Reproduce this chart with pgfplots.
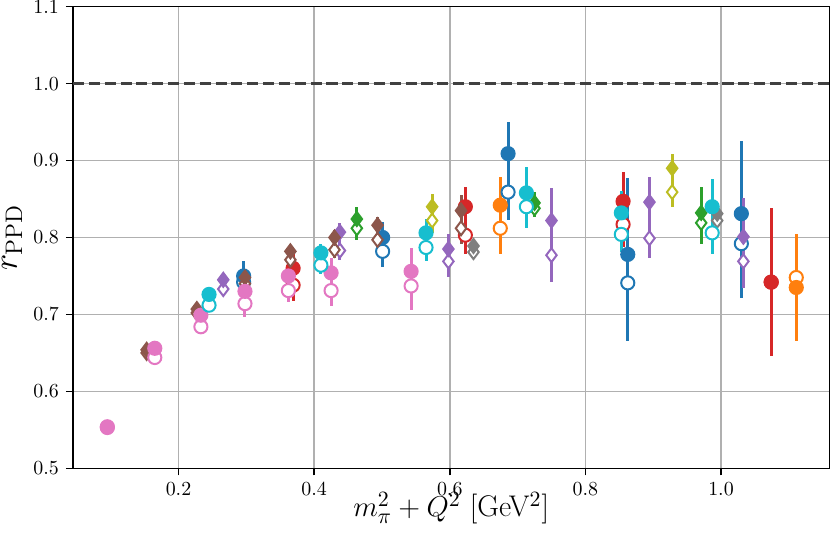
\documentclass[border=0pt]{standalone}
\usepackage{pgfplots}
\usepackage{pgfplotstable}
\pgfplotsset{compat=1.18}

\definecolor{tblue}{HTML}{1F77B4}
\definecolor{torange}{HTML}{FF7F0E}
\definecolor{tgreen}{HTML}{2CA02C}
\definecolor{tred}{HTML}{D62728}
\definecolor{tpurple}{HTML}{9467BD}
\definecolor{tbrown}{HTML}{8C564B}
\definecolor{tpink}{HTML}{E377C2}
\definecolor{tgray}{HTML}{7F7F7F}
\definecolor{tolive}{HTML}{BCBD22}
\definecolor{tcyan}{HTML}{17BECF}
\definecolor{gridc}{HTML}{B0B0B0}

\pgfplotstableread{
x yf ef yo eo
0.296 0.750 0.020 0.742 0.018
0.501 0.800 0.020 0.782 0.020
0.686 0.909 0.041 0.859 0.036
0.8625 0.778 0.099 0.741 0.076
1.030 0.831 0.094 0.792 0.071
}\tblue
\pgfplotstableread{
x yf ef yo eo
0.6745 0.842 0.036 0.812 0.033
1.111 0.735 0.070 0.748 0.057
}\torange
\pgfplotstableread{
x yf ef yo eo
0.463 0.824 0.015 0.812 0.015
0.725 0.845 0.014 0.838 0.012
0.9708 0.832 0.034 0.819 0.027
}\tgreen
\pgfplotstableread{
x yf ef yo eo
0.369 0.760 0.020 0.738 0.020
0.623 0.840 0.025 0.803 0.024
0.8556 0.847 0.038 0.817 0.030
1.074 0.742 0.096 0.742 0.096
}\tred
\pgfplotstableread{
x yf ef yo eo
0.266 0.745 0.008 0.733 0.008
0.438 0.807 0.012 0.783 0.012
0.598 0.785 0.020 0.769 0.020
0.750 0.822 0.042 0.777 0.035
0.8945 0.846 0.032 0.799 0.026
1.033 0.801 0.050 0.769 0.034
}\tpurple
\pgfplotstableread{
x yf ef yo eo
0.153 0.654 0.005 0.650 0.005
0.227 0.707 0.006 0.702 0.006
0.298 0.748 0.008 0.740 0.008
0.365 0.782 0.008 0.771 0.008
0.430 0.800 0.010 0.784 0.010
0.4935 0.816 0.010 0.797 0.010
0.6166 0.835 0.020 0.812 0.020
}\tbrown
\pgfplotstableread{
x yf ef yo eo
0.095 0.554 0.008 0.553 0.008
0.165 0.656 0.008 0.644 0.008
0.233 0.699 0.010 0.684 0.010
0.298 0.730 0.017 0.714 0.017
0.362 0.750 0.015 0.731 0.015
0.425 0.754 0.020 0.731 0.020
0.543 0.756 0.030 0.737 0.031
}\tpink
\pgfplotstableread{
x yf ef yo eo
0.635 0.789 0.008 0.781 0.008
0.9944 0.831 0.008 0.822 0.008
}\tgray
\pgfplotstableread{
x yf ef yo eo
0.574 0.840 0.016 0.822 0.016
0.928 0.890 0.019 0.859 0.019
}\tolive
\pgfplotstableread{
x yf ef yo eo
0.245 0.726 0.008 0.712 0.008
0.410 0.780 0.012 0.764 0.012
0.565 0.806 0.018 0.787 0.018
0.713 0.858 0.033 0.840 0.028
0.853 0.832 0.028 0.804 0.023
0.987 0.840 0.036 0.806 0.028
}\tcyan

% #1 table, #2 colour, #3 mark, #4 mark size
\newcommand{\grp}[4]{%
\addplot[only marks, color=#2, mark=#3, mark size=#4,
  mark options={solid, fill=white, line width=1pt},
  error bars/.cd, y dir=both, y explicit, error mark=none,
  error bar style={solid, line width=1.5pt, color=#2}]
  table[x=x, y=yo, y error=eo] {#1};
\addplot[only marks, color=#2, mark=#3, mark size=#4,
  mark options={solid, fill=#2, line width=1pt},
  error bars/.cd, y dir=both, y explicit, error mark=none,
  error bar style={solid, line width=1.5pt, color=#2}]
  table[x=x, y=yf, y error=ef] {#1};
}

\begin{document}
\begin{tikzpicture}
\begin{axis}[
  name=ax,
  scale only axis,
  width=378.15bp, height=230.8bp,
  xmin=0.0444, xmax=1.1597,
  ymin=0.5, ymax=1.1,
  xtick={0.2,0.4,0.6,0.8,1.0},
  ytick={0.5,0.6,0.7,0.8,0.9,1.0,1.1},
  xtick pos=bottom, ytick pos=left,
  tick align=outside,
  major tick length=3.5bp,
  every tick/.style={black, line width=0.8pt},
  axis line style={black, line width=0.8pt},
  grid=major,
  major grid style={gridc, line width=0.8pt},
  xticklabel style={/pgf/number format/.cd, fixed, fixed zerofill, precision=1},
  yticklabel style={/pgf/number format/.cd, fixed, fixed zerofill, precision=1},
  tick label style={font=\fontsize{10}{12}\selectfont},
  xlabel={$m_\pi^2+Q^2$ [GeV$^2$]},
  ylabel={$r_{\mathrm{PPD}}$},
  every axis x label/.style={at={(axis description cs:0.5,0)}, anchor=base, yshift=-24.3bp, inner sep=0pt, font=\fontsize{15}{18}\selectfont},
  every axis y label/.style={at={(axis description cs:-0.0805,0.5)}, anchor=center, rotate=90, inner sep=0pt, font=\fontsize{18}{22}\selectfont},
  clip=true,
]
\addplot[color=black!75, line width=1.5pt, dash pattern=on 5.55pt off 2.4pt, forget plot] coordinates {(0.0444,1.0) (1.1597,1.0)};
\grp{\tblue}{tblue}{*}{3.3pt}
\grp{\torange}{torange}{*}{3.3pt}
\grp{\tgreen}{tgreen}{diamond*}{3.5pt}
\grp{\tred}{tred}{*}{3.3pt}
\grp{\tpurple}{tpurple}{diamond*}{3.5pt}
\grp{\tbrown}{tbrown}{diamond*}{3.5pt}
\grp{\tpink}{tpink}{*}{3.3pt}
\grp{\tgray}{tgray}{diamond*}{3.5pt}
\grp{\tolive}{tolive}{diamond*}{3.5pt}
\grp{\tcyan}{tcyan}{*}{3.3pt}
\end{axis}
\pgfresetboundingbox
\path ([shift={(-36.5bp,-34.85bp)}]ax.south west) rectangle ([shift={(0.85bp,3.35bp)}]ax.north east);
\end{tikzpicture}
\end{document}
